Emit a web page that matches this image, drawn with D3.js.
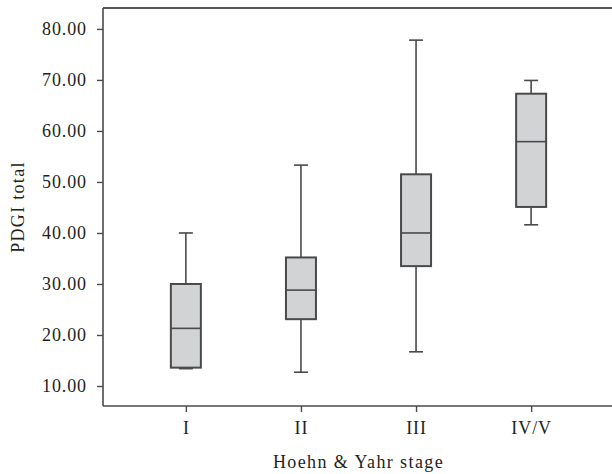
<!DOCTYPE html>
<html>
<head>
<meta charset="utf-8">
<title>PDGI total by Hoehn &amp; Yahr stage</title>
<script src="https://cdn.jsdelivr.net/npm/d3@7"></script>
<style>
  body { margin: 0; background: #fff; }
  svg text { font-family: "Liberation Serif", "DejaVu Serif", serif; fill: #231f20; }
</style>
</head>
<body>
<div id="chart"></div>
<script>
// data
var stages = ["I", "II", "III", "IV/V"];
var whiskerLow = [13.4, 12.7, 16.7, 41.6];
var q1 = [13.6, 23.1, 33.5, 45.1];
var median = [21.3, 28.8, 40.0, 57.9];
var q3 = [30.0, 35.2, 51.5, 67.3];
var whiskerHigh = [40.0, 53.3, 77.8, 69.9];
var yTicks = [10, 20, 30, 40, 50, 60, 70, 80];

(function () {
  var W = 612, H = 474;
  var plotL = 103, plotR = 614, plotT = 8, plotB = 406;

  var svg = d3.select("#chart").append("svg")
    .attr("width", W).attr("height", H);

  var x = d3.scalePoint().domain(stages).range([plotL, plotR]).padding(0.72);
  var y = d3.scaleLinear().domain([6.08, 84.1]).range([plotB, plotT]);

  var ink = "#4a4a4c";

  // frame (top + right), axes drawn below
  svg.append("path")
    .attr("d", "M" + plotL + "," + plotT + "H" + plotR + "V" + plotB)
    .attr("fill", "none").attr("stroke", "#231f20").attr("stroke-width", 1.5);

  var yAxis = svg.append("g")
    .attr("transform", "translate(" + plotL + ",0)")
    .call(d3.axisLeft(y).tickValues(yTicks).tickSize(6).tickPadding(10)
      .tickFormat(d3.format(".2f")));
  var xAxis = svg.append("g")
    .attr("transform", "translate(0," + plotB + ")")
    .call(d3.axisBottom(x).tickSize(6).tickPadding(9));

  [yAxis, xAxis].forEach(function (g) {
    g.select(".domain").attr("stroke", ink).attr("stroke-width", 1.6);
    g.selectAll(".tick line").attr("stroke", ink).attr("stroke-width", 1.4);
    g.selectAll("text").attr("font-size", 18).attr("font-family", null)
      .attr("fill", "#231f20").style("letter-spacing", "0.9px");
  });
  xAxis.select(".domain").attr("d", "M" + plotL + ",0H" + plotR);
  yAxis.select(".domain").attr("d", "M0," + plotB + "V" + plotT);

  var boxW = 30, capW = 14;
  var g = svg.append("g").selectAll("g").data(stages).enter().append("g");

  g.each(function (s, i) {
    var sel = d3.select(this), cx = x(s);
    // whiskers
    sel.append("line").attr("x1", cx).attr("x2", cx)
      .attr("y1", y(q3[i])).attr("y2", y(whiskerHigh[i]));
    sel.append("line").attr("x1", cx).attr("x2", cx)
      .attr("y1", y(q1[i])).attr("y2", y(whiskerLow[i]));
    sel.append("line").attr("x1", cx - capW / 2).attr("x2", cx + capW / 2)
      .attr("y1", y(whiskerHigh[i])).attr("y2", y(whiskerHigh[i]));
    sel.append("line").attr("x1", cx - capW / 2).attr("x2", cx + capW / 2)
      .attr("y1", y(whiskerLow[i])).attr("y2", y(whiskerLow[i]));
    // box
    sel.append("rect").attr("x", cx - boxW / 2).attr("width", boxW)
      .attr("y", y(q3[i])).attr("height", y(q1[i]) - y(q3[i]))
      .attr("fill", "#d2d3d5");
    sel.append("line").attr("x1", cx - boxW / 2).attr("x2", cx + boxW / 2)
      .attr("y1", y(median[i])).attr("y2", y(median[i]));
  });
  g.selectAll("line, rect").attr("stroke", ink).attr("stroke-width", 1.6);
  g.selectAll("rect").attr("stroke-width", 2);

  // axis titles
  svg.append("text")
    .attr("transform", "translate(24," + ((plotT + plotB) / 2) + ") rotate(-90)")
    .attr("text-anchor", "middle").attr("font-size", 18)
    .style("letter-spacing", "1.3px")
    .text("PDGI total");
  svg.append("text")
    .attr("x", (plotL + plotR) / 2).attr("y", 468)
    .attr("text-anchor", "middle").attr("font-size", 18)
    .style("letter-spacing", "1.4px")
    .text("Hoehn & Yahr stage");
})();
</script>
</body>
</html>
